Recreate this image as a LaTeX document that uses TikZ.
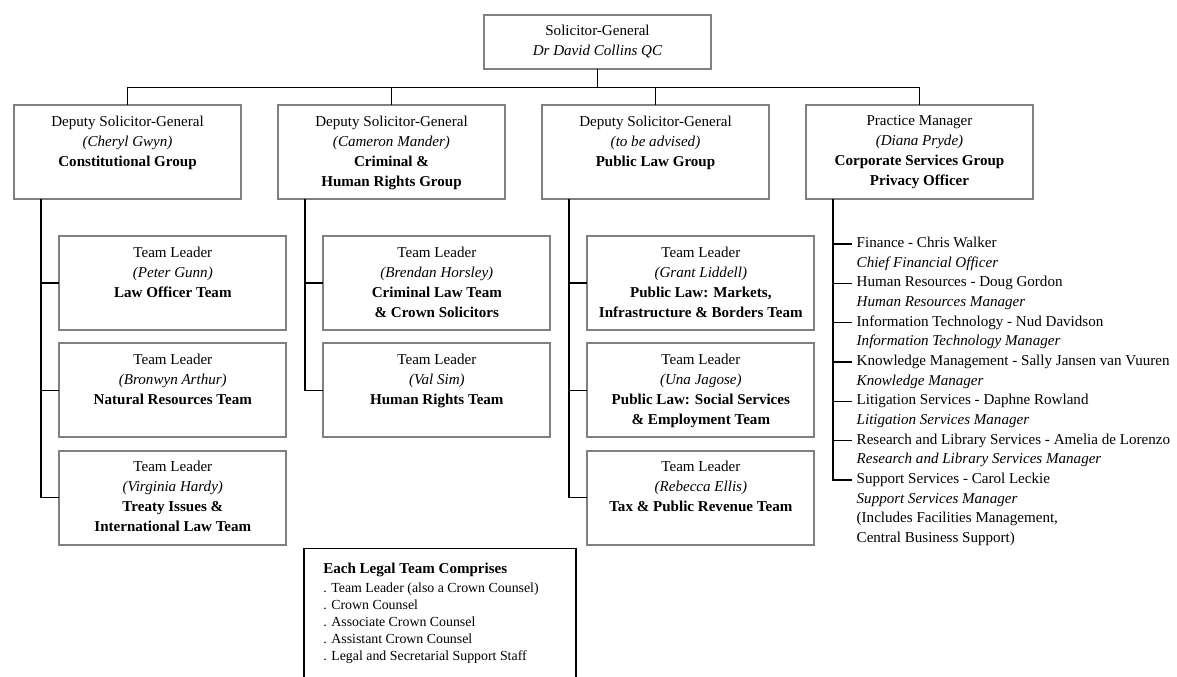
\documentclass[tikz,border=0pt]{standalone}
\usepackage{fontspec}
\setmainfont{Liberation Serif}
\usetikzlibrary{positioning}

\definecolor{boxline}{RGB}{128,128,128}

\begin{document}
\begin{tikzpicture}[
  x=0.75pt, y=-0.75pt,
  link/.style={draw=black, line width=1.1pt},
  head/.style={draw=boxline, line width=1.3pt, align=center, minimum width=170.25pt, minimum height=40.7pt, inner sep=0pt, outer sep=0pt, font=\fontsize{11.3}{15}\selectfont},
  unit/.style={draw=boxline, line width=1.3pt, inner sep=0pt, outer sep=0pt, font=\fontsize{11.3}{15}\selectfont,
    execute at begin node={\begin{minipage}[t][70.5pt][t]{170.25pt}\centering\vspace*{8pt}},
    execute at end node={\end{minipage}}},
  staff/.style={inner xsep=3.75pt, inner ysep=0pt, outer sep=0pt, text height=10pt, text depth=4.75pt, font=\fontsize{11.3}{15}\selectfont},
  role/.style={staff, font=\fontsize{11.3}{15}\selectfont\itshape},
  legend/.style={draw=black, line width=1pt, minimum width=204pt, minimum height=110pt, inner sep=0pt, outer sep=0pt},
  legtext/.style={align=left, inner sep=0pt, font=\fontsize{10.4}{12.75}\selectfont}
]
\useasboundingbox (0,0) rectangle (1177,677);
\clip (0,0) rectangle (1177,677);

% top
\node[head, anchor=north west] (sg) at (484,14.7) {Solicitor-General\\\textit{Dr David Collins QC}};

% groups
\node[unit, anchor=north west] (cg) at (14,105.3) {Deputy Solicitor-General\\\textit{(Cheryl Gwyn)}\\\textbf{Constitutional Group}};
\node[unit, right=27.75pt of cg] (chr) {Deputy Solicitor-General\\\textit{(Cameron Mander)}\\\textbf{Criminal \&}\\\textbf{Human Rights Group}};
\node[unit, right=27.75pt of chr] (plg) {Deputy Solicitor-General\\\textit{(to be advised)}\\\textbf{Public Law Group}};
\node[unit, right=27.75pt of plg] (csg) {Practice Manager\\\textit{(Diana Pryde)}\\\textbf{Corporate Services Group}\\\textbf{Privacy Officer}};

% constitutional teams
\node[unit, below right=27.5pt and 34pt of cg.south west] (lot) {Team Leader\\\textit{(Peter Gunn)}\\\textbf{Law Officer Team}};
\node[unit, below=10pt of lot] (nrt) {Team Leader\\\textit{(Bronwyn Arthur)}\\\textbf{Natural Resources Team}};
\node[unit, below=10pt of nrt] (til) {Team Leader\\\textit{(Virginia Hardy)}\\\textbf{Treaty Issues \&}\\\textbf{International Law Team}};

% criminal teams
\node[unit, below right=27.5pt and 34pt of chr.south west] (clt) {Team Leader\\\textit{(Brendan Horsley)}\\\textbf{Criminal Law Team}\\\textbf{\& Crown Solicitors}};
\node[unit, below=10pt of clt] (hrt) {Team Leader\\\textit{(Val Sim)}\\\textbf{Human Rights Team}};

% public law teams
\node[unit, below right=27.5pt and 34pt of plg.south west] (mib) {Team Leader\\\textit{(Grant Liddell)}\\\textbf{Public Law: Markets,}\\\textbf{Infrastructure \& Borders Team}};
\node[unit, below=10pt of mib] (sse) {Team Leader\\\textit{(Una Jagose)}\\\textbf{Public Law: Social Services}\\\textbf{\& Employment Team}};
\node[unit, below=10pt of sse] (tpr) {Team Leader\\\textit{(Rebecca Ellis)}\\\textbf{Tax \& Public Revenue Team}};

% corporate services
\node[staff, anchor=west] (fin) at (851.7,244) {Finance - Chris Walker};
\node[role, below=0pt of fin.south west, anchor=north west] (fin-r) {Chief Financial Officer};
\node[staff, below=0pt of fin-r.south west, anchor=north west] (hr) {Human Resources - Doug Gordon};
\node[role, below=0pt of hr.south west, anchor=north west] (hr-r) {Human Resources Manager};
\node[staff, below=0pt of hr-r.south west, anchor=north west] (it) {Information Technology - Nud Davidson};
\node[role, below=0pt of it.south west, anchor=north west] (it-r) {Information Technology Manager};
\node[staff, below=0pt of it-r.south west, anchor=north west] (km) {Knowledge Management - Sally Jansen van Vuuren};
\node[role, below=0pt of km.south west, anchor=north west] (km-r) {Knowledge Manager};
\node[staff, below=0pt of km-r.south west, anchor=north west] (lit) {Litigation Services - Daphne Rowland};
\node[role, below=0pt of lit.south west, anchor=north west] (lit-r) {Litigation Services Manager};
\node[staff, below=0pt of lit-r.south west, anchor=north west] (rls) {Research and Library Services - Amelia de Lorenzo};
\node[role, below=0pt of rls.south west, anchor=north west] (rls-r) {Research and Library Services Manager};
\node[staff, below=0pt of rls-r.south west, anchor=north west] (sup) {Support Services - Carol Leckie};
\node[role, below=0pt of sup.south west, anchor=north west] (sup-r) {Support Services Manager};
\node[staff, below=0pt of sup-r.south west, anchor=north west] (sup-a) {(Includes Facilities Management,};
\node[staff, below=0pt of sup-a.south west, anchor=north west] (sup-b) {Central Business Support)};

% legend
\node[legend, anchor=north west] (legend) at (304,548.3) {};
\node[legtext, below right=11.2pt and 14.25pt of legend.north west] (legtext) {{\fontsize{11.3}{12.75}\selectfont\bfseries Each Legal Team Comprises}\\[1.5pt]
  . Team Leader (also a Crown Counsel)\\
  . Crown Counsel\\
  . Associate Crown Counsel\\
  . Assistant Crown Counsel\\
  . Legal and Secretarial Support Staff};

% connectors
\coordinate (bus) at (0,87.3);
\draw[link] (sg.south) -- (sg.south |- bus);
\draw[link] (cg.north |- bus) -- (csg.north |- bus);
\draw[link] (cg.north |- bus) -- (cg.north);
\draw[link] (chr.north |- bus) -- (chr.north);
\draw[link] (plg.north |- bus) -- (plg.north);
\draw[link] (csg.north |- bus) -- (csg.north);

\coordinate (sp1) at ([xshift=20.25pt]cg.south west);
\coordinate (sp2) at ([xshift=20.25pt]chr.south west);
\coordinate (sp3) at ([xshift=20.25pt]plg.south west);
\coordinate (sp4) at ([xshift=20.25pt]csg.south west);

\draw[link] (sp1) |- (til.west);
\draw[link] (lot.west -| sp1) -- (lot.west);
\draw[link] (nrt.west -| sp1) -- (nrt.west);

\draw[link] (sp2) |- (hrt.west);
\draw[link] (clt.west -| sp2) -- (clt.west);

\draw[link] (sp3) |- (tpr.west);
\draw[link] (mib.west -| sp3) -- (mib.west);
\draw[link] (sse.west -| sp3) -- (sse.west);

\draw[link] (sp4) |- (sup.west);
\draw[link] (fin.west -| sp4) -- (fin.west);
\draw[link] (hr.west -| sp4) -- (hr.west);
\draw[link] (it.west -| sp4) -- (it.west);
\draw[link] (km.west -| sp4) -- (km.west);
\draw[link] (lit.west -| sp4) -- (lit.west);
\draw[link] (rls.west -| sp4) -- (rls.west);
\end{tikzpicture}
\end{document}
